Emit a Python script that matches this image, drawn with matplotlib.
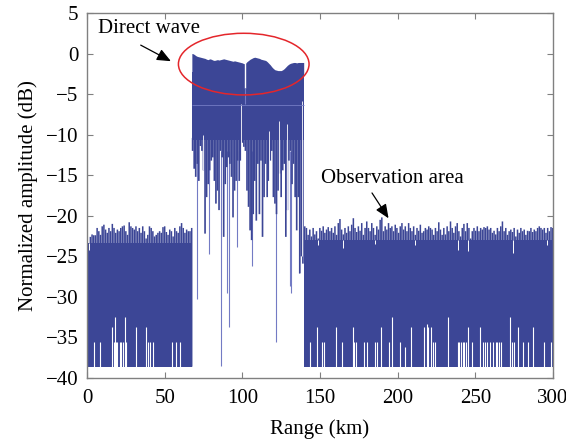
import matplotlib.pyplot as plt
import numpy as np
from matplotlib.patches import Ellipse

plt.rcParams['font.family'] = ['Liberation Serif', 'DejaVu Serif']
plt.rcParams['font.size'] = 15

FILL = '#3c4696'
LIGHT = '#737bc4'

# noise floor / clutter level (dB)
floor_db = -38.6
left_base = -23.3
right_base = -23.0

# observation area before the direct wave, 0 - 67 km, peak of each spike
left_peaks = [-20.7, -24.2, -22.6, -22.3, -22.4, -22.4, -21.5, -21.9, -22.35, -21.3,
              -21.1, -21.7, -22.1, -21.5, -21.9, -21.0, -21.5, -22.1, -21.7, -21.9,
              -21.5, -21.3, -21.2, -21.9, -22.35, -20.8, -21.3, -21.5, -21.7, -21.3,
              -21.9, -21.5, -22.1, -21.3, -21.9, -22.8, -22.35, -21.3, -21.5, -21.9,
              -22.55, -22.35, -22.1, -21.9, -22.1, -21.4, -21.3, -22.0, -22.35, -21.7,
              -21.9, -22.55, -21.5, -21.9, -22.1, -21.3, -20.9, -21.5, -22.1, -21.7,
              -21.9, -21.9, -21.5]

# observation area after the direct wave, 140 - 300 km
right_peaks = [-21.3, -21.5, -22.35, -21.7, -22.55, -21.5, -22.3, -21.9, -22.8, -21.5,
               -21.85, -21.3, -22.1, -21.7, -21.4, -21.9, -21.5, -22.1, -21.3, -22.35,
               -20.9, -20.4, -21.7, -22.3, -21.5, -22.1, -21.3, -21.9, -21.1, -20.3,
               -21.5, -22.0, -21.3, -21.85, -20.9, -22.35, -21.5, -20.7, -21.5, -21.9,
               -20.9, -21.5, -22.35, -21.3, -21.7, -20.5, -20.2, -21.9, -21.3, -21.7,
               -20.9, -21.5, -21.3, -21.9, -21.1, -21.5, -22.1, -21.3, -20.9, -21.7,
               -21.3, -21.9, -20.9, -21.5, -21.9, -21.3, -22.35, -21.5, -21.85, -21.1,
               -22.1, -21.9, -21.5, -21.7, -21.3, -21.5,
               -21.7, -22.35, -21.5, -21.9, -20.8, -21.7, -22.35, -21.5, -22.3, -21.3,
               -21.9, -20.7, -21.5, -22.1, -21.3, -20.9, -21.9, -22.55, -21.5, -21.0,
               -21.9, -20.9, -21.5, -22.8, -21.9, -21.5, -21.85, -21.3, -21.9, -21.5,
               -21.7, -21.4, -21.5, -21.3, -21.7, -21.5, -22.1, -21.85, -22.3, -21.5,
               -21.9, -21.3, -20.7, -21.9, -21.5, -22.35, -21.9, -21.7, -22.0, -21.5,
               -22.55, -21.7, -22.1, -21.5, -21.9, -21.7, -22.35, -21.85, -21.9, -21.5,
               -22.0, -21.7, -21.9, -21.5, -21.3, -21.5, -21.7, -21.5, -22.1, -21.5,
               -21.9, -21.4, -21.5]

# dips below the clutter top
notch_km = [1.1, 148.9, 165.0, 185.4, 211.2, 239.1, 245.5, 274.5, 295.9]
notch_db = [-24.2, -23.6, -24.0, -23.5, -23.6, -24.2, -24.4, -24.6, -23.6]

# samples that never reach the floor
gap_km = [4.7, 8.4, 15.9, 17.6, 18.0, 18.6, 19.3, 21.0, 21.6, 23.4, 24.3, 25.1,
          31.8, 37.8, 39.5, 40.6, 42.3, 54.5, 57.1, 59.7,
          143.6, 147.9, 151.5, 152.3, 160.1, 164.4, 171.5, 172.1, 173.2, 178.1,
          180.3, 185.4, 186.9, 189.1, 194.6, 196.6, 201.5, 204.9, 208.4, 217.2,
          218.7, 219.8, 221.3, 223.0, 224.0, 232.6, 238.6, 239.7, 240.8, 241.9,
          242.9, 244.0, 245.5, 247.7, 253.0, 254.8, 256.4, 257.7, 259.5, 261.2,
          263.1, 264.2, 265.5, 266.3, 272.3, 273.6, 274.7, 277.3, 280.5, 283.7,
          286.9, 294.2, 298.5]
gap_db = [-35.6, -35.6, -33.7, -35.6, -32.5, -35.6, -35.6, -35.6, -35.6, -35.6, -32.5, -35.6,
          -33.7, -33.7, -35.6, -35.6, -35.6, -35.6, -35.6, -35.6,
          -35.6, -33.7, -35.6, -35.6, -33.7, -35.6, -33.7, -35.6, -35.6, -35.6,
          -35.6, -35.6, -35.6, -33.7, -35.6, -32.5, -35.6, -36.2, -33.7, -33.7,
          -33.3, -33.7, -33.7, -35.6, -35.6, -32.5, -35.6, -35.6, -35.6, -35.6,
          -35.6, -35.6, -33.7, -35.6, -33.7, -35.6, -35.6, -35.6, -35.6, -35.6,
          -35.6, -35.6, -35.6, -35.6, -32.5, -35.6, -35.6, -33.7, -35.6, -35.6,
          -33.7, -35.6, -35.6]

# direct wave, 68 - 139 km (1 km bins)
direct_km = np.arange(68, 140)
direct_top = [0.0, -0.1, -0.25, -0.35, -0.4, -0.45, -0.5, -0.55, -0.6, -0.7,
              -0.75, -0.65, -0.7, -0.8, -0.85, -0.8, -0.75, -0.8, -0.75, -0.7,
              -0.65, -0.7, -0.75, -0.8, -0.85, -0.9, -0.95, -0.9, -0.95, -1.0,
              -1.05, -1.1, -1.15, -1.25, -1.2, -1.0, -0.85, -0.7, -0.6, -0.5,
              -0.45, -0.5, -0.55, -0.6, -0.7, -0.75, -0.8, -0.85, -1.0, -1.2,
              -1.4, -1.65, -1.85, -2.0, -2.05, -2.1, -2.1, -2.1, -2.0, -1.85,
              -1.65, -1.45, -1.3, -1.2, -1.15, -1.1, -1.1, -1.15, -1.1, -1.1,
              -1.1, -1.1]
direct_low = [-12.0, -14.2, -15.2, -13.6, -15.7, -11.4, -12.0, -14.4, -22.2, -17.7,
              -16.1, -14.4, -13.2, -12.8, -15.7, -18.5, -16.9, -19.3, -12.0, -12.8,
              -22.6, -16.1, -14.0, -12.8, -13.6, -15.2, -20.2, -16.9, -15.7, -13.2,
              -15.7, -13.2, -11.0, -11.5, -12.0, -16.9, -18.9, -21.8, -23.0, -19.8,
              -15.7, -20.6, -13.6, -19.8, -13.2, -22.6, -17.7, -13.6, -17.7, -15.7,
              -13.2, -12.0, -17.7, -18.5, -19.8, -16.9, -14.8, -17.7, -14.4, -13.6,
              -22.6, -19.3, -13.2, -12.0, -16.1, -13.6, -17.7, -21.8, -17.7, -27.1,
              -25.0, -25.9]
# solid body of the direct wave (dB)
direct_body = (-10.6, -2.3)
# narrow null of the direct wave near 101.5 km
null_km = 101.6
null_db = (-0.7, -4.2, -6.2)

# single deep samples inside the direct wave
spike_km = [71.0, 78.6, 86.3, 90.4, 91.7, 96.4, 106.2, 121.5, 130.8, 131.4, 136.7]
spike_db = [-30.2, -24.7, -38.5, -29.5, -33.7, -23.9, -26.2, -35.5, -28.6, -29.5, -27.1]

# thin white notches inside the direct wave
dnotch_km = [74.9, 99.1, 117.2, 123.8, 129.0, 138.2]
dnotch_top = [-10.1, -6.2, -9.5, -8.3, -8.7, -5.8]
dnotch_bottom = [-14.4, -13.2, -15.7, -16.9, -19.3, -25.0]

fig = plt.figure(figsize=(5.66, 4.41), dpi=100)
ax = fig.add_axes([87 / 566, 1 - 378 / 441, 466 / 566, 365 / 441])

left_km = np.linspace(0, 67.4, len(left_peaks))
right_km = np.linspace(140.2, 299.8, len(right_peaks))

ax.fill_between([0, 67.4], floor_db, left_base, color=FILL, lw=0, zorder=2)
ax.vlines(left_km, floor_db, left_peaks, color=FILL, lw=1.1, zorder=2, snap=False)
ax.fill_between([140, 300], floor_db, right_base, color=FILL, lw=0, zorder=2)
ax.vlines(right_km, floor_db, right_peaks, color=FILL, lw=1.1, zorder=2, snap=False)

ax.vlines(notch_km, notch_db, [left_base] + [right_base] * (len(notch_km) - 1),
          color='white', lw=0.7, zorder=3)
ax.vlines(gap_km, floor_db, gap_db, color='white', lw=0.8, zorder=3)

# direct wave: flat body, top envelope, one column per 1 km bin below
ax.vlines(spike_km, -12, spike_db, color=LIGHT, lw=0.8, zorder=1)
ax.fill_between([67.5, 139.5], direct_body[0], direct_body[1], color=FILL, lw=0, zorder=2)
ax.fill_between(np.r_[67.5, direct_km, 139.5], direct_body[1] - 0.2,
                np.r_[direct_top[0], direct_top, direct_top[-1]],
                color=FILL, lw=0, zorder=2)
ax.vlines(direct_km, direct_low, direct_body[0] + 0.2, color=FILL, lw=1.2,
          zorder=2, snap=False)
ax.vlines(null_km, null_db[0], null_db[1], color='white', lw=1.0, zorder=3)
ax.vlines(null_km, null_db[1], null_db[2], color=LIGHT, lw=0.8, zorder=3)
ax.vlines(dnotch_km, dnotch_bottom, dnotch_top, color='white', lw=0.6, zorder=3)
ax.hlines(-6.3, 67.5, 139.5, color=LIGHT, lw=0.6, zorder=3)

# annotations
ax.text(7.1, 3.1, 'Direct wave', va='center', ha='left')
ax.annotate('', xy=(55.6, -1.1), xytext=(33.0, 1.2),
            arrowprops=dict(arrowstyle='-|>,head_length=0.7,head_width=0.3',
                            color='black', lw=0.9, mutation_scale=12))
ax.text(150.4, -15.4, 'Observation area', va='center', ha='left')
ax.annotate('', xy=(195.1, -20.6), xytext=(182.5, -16.9),
            arrowprops=dict(arrowstyle='-|>,head_length=0.7,head_width=0.3',
                            color='black', lw=0.9, mutation_scale=12))
ax.add_patch(Ellipse((100.9, -1.3), 84.1, 7.6, fill=False,
                     edgecolor='#e4262b', lw=1.1, zorder=5))

ax.set_xlim(0, 300)
ax.set_ylim(-40, 5)
ax.set_xticks(np.arange(0, 301, 50))
ax.set_yticks(np.arange(-40, 6, 5))
ax.tick_params(direction='in', top=True, right=True, length=4, width=0.8,
               color='#808080', pad=6)
ax.tick_params(axis='x', pad=8)
for s in ax.spines.values():
    s.set_color('#808080')
    s.set_linewidth(1.0)
ax.set_xlabel('Range (km)', labelpad=8)
ax.set_ylabel('Normalized amplitude (dB)', labelpad=6)

fig.savefig('out.png', dpi=100)
